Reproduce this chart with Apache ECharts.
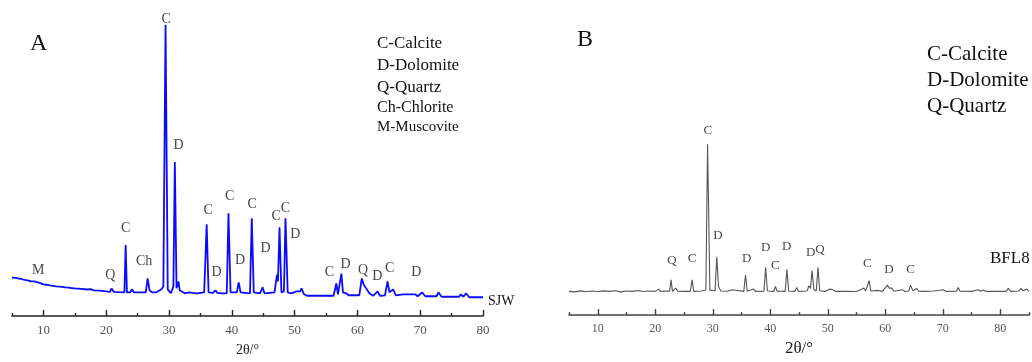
<!DOCTYPE html>
<html>
<head>
<meta charset="utf-8">
<script src="https://cdn.jsdelivr.net/npm/echarts@6/dist/echarts.min.js"></script>
<style>html,body{margin:0;padding:0;background:#fff}#c{width:1032px;height:362px}</style>
</head>
<body>
<div id="c"></div>
<script>
// Sample A (SJW): [2θ, intensity]
const patternA = [
[5,1170],[5.5,1160],[6,1140],[6.5,1125],[7,1095],[7.5,1080],[8,1050],[8.5,1050],[8.8,1095],[9.1,1020],[9.5,1000],[10,960],[10.5,950],[11,930],[11.5,915],[12,900],[12.3,930],[12.6,895],[13,885],[13.5,870],[14,860],[14.5,850],[15,840],[16,825],[17,805],[17.5,815],[18,780],[19,770],[20,750],[20.6,735],[20.86,840],[21.2,735],[22,725],[22.9,720],[23.1,2160],[23.3,720],[23.8,715],[24.1,810],[24.4,720],[25,720],[26.3,720],[26.6,1140],[26.9,780],[27.3,720],[28,720],[28.8,810],[29.1,900],[29.45,8850],[29.8,810],[30.3,690],[30.7,900],[30.93,4680],[31.2,840],[31.5,1050],[31.7,780],[32.5,690],[33.2,720],[33.5,750],[33.8,700],[34.5,690],[35.6,720],[36.0,2790],[36.3,720],[37.0,700],[37.4,780],[37.7,700],[38.5,690],[39.2,690],[39.47,3120],[39.8,720],[40.8,720],[41.1,1020],[41.4,720],[42.9,690],[43.18,2970],[43.5,720],[44.5,690],[44.9,870],[45.2,690],[46.8,720],[47.2,1260],[47.35,1050],[47.6,2700],[47.9,720],[48.3,750],[48.55,2970],[48.9,720],[49.5,690],[50.3,750],[50.6,810],[50.9,750],[51.1,840],[51.5,660],[52,615],[54,615],[56.2,615],[56.65,990],[56.9,660],[57.15,660],[57.45,1290],[57.7,720],[58.2,690],[58.6,630],[59.7,630],[60.0,675],[60.3,630],[60.7,1140],[61.0,960],[61.4,840],[61.9,690],[62.5,615],[63.2,750],[63.6,615],[64.4,630],[64.8,1050],[65.1,720],[65.7,810],[66.1,630],[67.3,660],[67.6,600],[69.2,660],[69.6,600],[70.3,720],[70.8,600],[72.6,600],[72.9,720],[73.4,585],[76.2,585],[76.5,660],[76.9,585],[77.3,690],[77.8,570],[80,570]
];
// Sample B (BFL8)
const patternB = [
[5,720],[6,705],[7,735],[8,710],[9,730],[10,715],[11,735],[12,720],[13,740],[14,705],[15,730],[16,720],[17,745],[18,715],[19,730],[20,720],[20.6,790],[20.9,720],[22,730],[22.5,725],[22.75,1070],[23,720],[23.6,820],[23.9,725],[25,720],[26.1,720],[26.4,1070],[26.7,720],[28,730],[28.8,760],[29.1,5190],[29.5,760],[30.4,740],[30.7,1770],[31.0,870],[31.4,730],[32.5,725],[33.4,770],[33.7,720],[35.4,720],[35.7,1220],[36.0,725],[37.1,790],[37.4,720],[38.9,725],[39.2,1450],[39.5,730],[40.6,720],[40.9,870],[41.2,725],[42.6,720],[42.9,1390],[43.2,730],[44.3,720],[44.6,840],[44.9,720],[46.4,730],[46.7,890],[47.0,820],[47.26,1350],[47.6,770],[48.0,730],[48.3,1450],[48.6,740],[49.5,720],[50.4,790],[50.7,730],[50.9,770],[51.3,720],[53,725],[55,715],[56.3,820],[56.6,730],[57.2,1050],[57.5,730],[58.8,750],[59.5,720],[60.35,910],[60.7,820],[61.1,820],[61.5,725],[63.0,770],[63.4,720],[64.1,730],[64.4,910],[64.8,740],[65.45,810],[65.8,725],[67,720],[68.5,730],[70.1,770],[70.5,720],[72.4,725],[72.7,840],[73.0,725],[75,720],[76.2,770],[76.6,725],[77,760],[77.5,720],[79,725],[81.0,720],[81.4,810],[81.8,720],[83.2,730],[83.6,810],[84.0,740],[84.6,790],[85,720]
];
const labelsA = [[9.18,1401,'M'],[20.64,1251,'Q'],[23.09,2670,'C'],[26.05,1671,'Ch'],[29.55,9030,'C'],[31.52,5190,'D'],[36.23,3201,'C'],[37.56,1341,'D'],[39.68,3651,'C'],[41.32,1701,'D'],[43.23,3381,'C'],[45.36,2070,'D'],[47.05,3030,'C'],[48.54,3279,'C'],[50.13,2481,'D'],[55.54,1341,'C'],[58.13,1581,'D'],[60.89,1380,'Q'],[63.18,1200,'D'],[65.13,1461,'C'],[69.38,1320,'D']];
const labelsB = [[22.92,1650,'Q'],[26.40,1719,'C'],[29.13,5601,'C'],[30.92,2421,'D'],[35.91,1719,'D'],[39.21,2040,'D'],[40.88,1491,'C'],[42.87,2070,'D'],[47.04,1890,'D'],[48.66,2001,'Q'],[56.88,1569,'C'],[60.65,1371,'D'],[64.42,1371,'C']];
const legendA = ['C-Calcite','D-Dolomite','Q-Quartz','Ch-Chlorite','M-Muscovite'];
const legendB = ['C-Calcite','D-Dolomite','Q-Quartz'];
const majorTicksA = [10,20,30,40,50,60,70,80];
const minorTicksA = [5,15,25,35,45,55,65,75];
const majorTicksB = [10,20,30,40,50,60,70,80];
const minorTicksB = [5,15,25,35,45,55,65,75,85];

const F = '"Liberation Serif","Times New Roman",serif';
const chart = echarts.init(document.getElementById('c'));

function xAxisMain(gi, max, ticks, color, fs, nameFs, gap) {
  return {type:'value', gridIndex:gi, min:5, max:max, position:'bottom',
    name:'2θ/°', nameLocation:'middle', nameGap:gap,
    nameTextStyle:{fontFamily:F, fontSize:nameFs, color:'#222'},
    axisLine:{lineStyle:{color:color, width:1.6}},
    axisTick:{show:true, inside:true, length:6, customValues:ticks, lineStyle:{color:color, width:1.4}},
    axisLabel:{customValues:ticks, fontFamily:F, fontSize:fs, color:'#555', margin:8},
    splitLine:{show:false}};
}
function xAxisMinor(gi, max, ticks, color) {
  return {type:'value', gridIndex:gi, min:5, max:max, position:'bottom',
    axisLine:{show:false},
    axisTick:{show:true, inside:true, length:3, customValues:ticks, lineStyle:{color:color, width:1.4}},
    axisLabel:{show:false}, splitLine:{show:false}};
}
function yAxis(gi, max) {
  return {type:'value', gridIndex:gi, min:0, max:max, show:false, splitLine:{show:false}};
}
function lbl(xi, yi, data, fs) {
  return {type:'scatter', xAxisIndex:xi, yAxisIndex:yi, symbolSize:0, silent:true,
    data:data.map(d=>({value:[d[0],d[1]], name:d[2]})),
    label:{show:true, position:'inside', formatter:p=>p.name, fontFamily:F, fontSize:fs, color:'#111'}};
}
function legendGraphics(items, x, y0, step, sizes) {
  return items.map((t,i)=>({type:'text', left:x, top:y0+i*step[i]-sizes[i]/2,
    style:{text:t, font:sizes[i]+'px '+F, fill:'#111'}}));
}

chart.setOption({
  animation:false,
  grid:[{left:12, width:471, top:10, bottom:42},{left:569, width:460, top:10, bottom:43}],
  xAxis:[xAxisMain(0,80,majorTicksA,'#222',13,14,27), xAxisMinor(0,80,minorTicksA,'#222'),
         xAxisMain(1,85,majorTicksB,'#444',12,17,20), xAxisMinor(1,85,minorTicksB,'#444')],
  yAxis:[yAxis(0,9300), yAxis(1,9270)],
  series:[
    {type:'line', xAxisIndex:0, yAxisIndex:0, data:patternA, symbol:'none', lineStyle:{color:'#0a0aff', width:1.8}},
    {type:'line', xAxisIndex:2, yAxisIndex:1, data:patternB, symbol:'none', lineStyle:{color:'#555', width:1.1}},
    lbl(0,0,labelsA,14), lbl(2,1,labelsB,13)
  ],
  graphic:[
    {type:'text', left:30, top:32, style:{text:'A', font:'24px '+F, fill:'#111'}},
    {type:'text', left:577, top:28, style:{text:'B', font:'24px '+F, fill:'#111'}},
    {type:'text', left:488, top:294, style:{text:'SJW', font:'14px '+F, fill:'#111'}},
    {type:'text', left:990, top:250, style:{text:'BFL8', font:'17px '+F, fill:'#111'}},
    {type:'text', left:377, top:35, style:{text:legendA[0], font:'17px '+F, fill:'#111'}},
    {type:'text', left:377, top:57, style:{text:legendA[1], font:'17px '+F, fill:'#111'}},
    {type:'text', left:377, top:79, style:{text:legendA[2], font:'17px '+F, fill:'#111'}},
    {type:'text', left:377, top:100, style:{text:legendA[3], font:'16px '+F, fill:'#111'}},
    {type:'text', left:377, top:120, style:{text:legendA[4], font:'15px '+F, fill:'#111'}},
    {type:'text', left:927, top:44, style:{text:legendB[0], font:'21px '+F, fill:'#111'}},
    {type:'text', left:927, top:70, style:{text:legendB[1], font:'21px '+F, fill:'#111'}},
    {type:'text', left:927, top:96, style:{text:legendB[2], font:'21px '+F, fill:'#111'}}
  ]
});
</script>
</body>
</html>
